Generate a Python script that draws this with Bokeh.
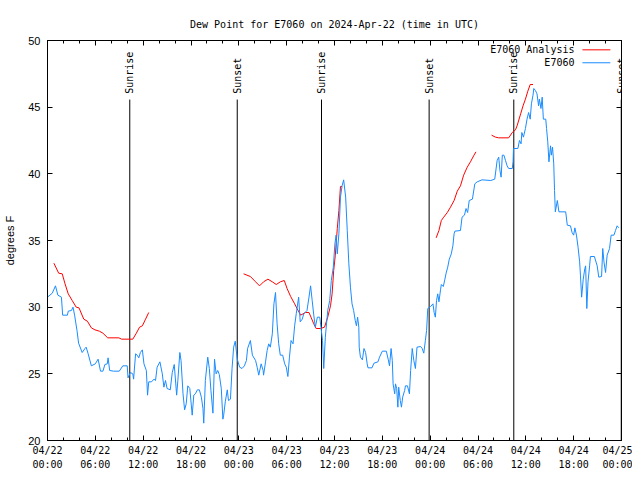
import math
from bokeh.plotting import figure
from bokeh.models import (Range1d, FixedTicker, LinearAxis, Label, LabelSet, Title,
                          ColumnDataSource, CustomJSTickFormatter)
from bokeh.core.properties import value
from bokeh.embed import file_html
from bokeh.resources import INLINE

# ---- data (hours since 2024-04-22 00:00 UTC, dew point in F) ----
obs_hours = [0.0, 0.6, 1.0, 1.3, 1.75, 1.9, 2.5, 2.6, 3.0, 3.2, 3.4, 3.7, 3.9, 4.35, 4.7, 4.85, 5.1, 5.5, 6.0, 6.35,
             6.65, 6.95, 7.2, 7.5, 7.6, 7.8, 8.3, 9.0, 9.45, 10.0, 10.1, 10.4, 10.7, 10.8, 11.05, 11.25, 11.45, 11.65,
             11.9, 12.1, 12.4, 12.55, 12.7, 13.05, 13.35, 13.55, 13.75, 14.1, 14.4, 14.6, 14.8, 15.0, 15.4, 15.65,
             15.9, 16.2, 16.35, 16.6, 16.75, 17.0, 17.2, 17.4, 17.6, 17.85, 18.15, 18.35, 18.55, 18.8, 19.05, 19.3,
             19.5, 19.6, 19.8, 20.1, 20.3, 20.5, 20.75, 20.95, 21.15, 21.35, 21.55, 21.8, 22.0, 22.1, 22.3, 22.55,
             22.7, 22.95, 23.15, 23.35, 23.55, 23.8, 24.1, 24.4, 24.7, 24.95, 25.1, 25.45, 25.7, 26.1, 26.3, 26.5,
             26.8, 27.05, 27.1, 27.35, 27.55, 27.75, 27.95, 28.2, 28.4, 28.6, 28.8, 29.0, 29.2, 29.5, 29.75, 29.95,
             30.15, 30.35, 30.55, 30.8, 31.0, 31.2, 31.5, 31.7, 31.95, 32.15, 32.55, 32.8, 33.0, 33.2, 33.4, 33.6,
             33.85, 34.15, 34.3, 34.5, 34.65, 34.85, 35.15, 35.4, 35.6, 35.85, 36.05, 36.2, 36.35, 36.55, 36.75,
             36.95, 37.15, 37.4, 37.6, 37.8, 38.0, 38.2, 38.4, 38.6, 38.75, 38.9, 39.05, 39.1, 39.25, 39.5, 39.7,
             39.9, 40.1, 40.2, 40.7, 40.95, 41.45, 41.65, 42.0, 42.5, 42.75, 42.9, 43.1, 43.25, 43.35, 43.55, 43.65,
             43.8, 43.95, 44.05, 44.25, 44.4, 44.55, 44.8, 44.9, 45.15, 45.4, 45.55, 45.75, 45.95, 46.15, 46.35,
             46.8, 47.0, 47.2, 47.4, 47.55, 47.7, 48.05, 48.35, 48.5, 48.65, 48.8, 48.95, 49.1, 49.3, 49.4, 49.65,
             49.85, 50.0, 50.2, 50.4, 50.65, 50.85, 51.0, 51.1, 51.8, 52.0, 52.3, 52.5, 52.7, 52.9, 53.3, 53.6,
             53.9, 54.5, 55.6, 56.1, 56.4, 56.6, 56.75, 56.9, 57.05, 57.25, 57.45, 57.65, 57.85, 58.3, 58.4, 58.45,
             59.0, 59.2, 59.4, 59.5, 59.7, 59.95, 60.15, 60.35, 60.55, 60.7, 60.9, 61.0, 61.2, 61.4, 61.6, 61.7,
             61.9, 62.05, 62.2, 62.5, 62.6, 62.75, 62.9, 63.1, 63.2, 63.35, 63.5, 63.6, 63.7, 63.95, 64.15, 65.0,
             65.2, 65.6, 65.8, 66.0, 66.15, 66.35, 66.55, 66.75, 66.85, 67.0, 67.2, 67.4, 67.5, 67.65, 67.8, 68.0,
             68.1, 68.6, 68.95, 69.15, 69.5, 69.65, 69.8, 70.0, 70.2, 70.5, 70.7, 71.05, 71.25, 71.45, 71.65]
obs_dewpt = [30.75, 31.05, 31.6, 30.9, 30.75, 29.4, 29.4, 29.7, 29.75, 30.0, 29.4, 28.25, 27.3, 26.6, 26.9, 27.0,
             26.5, 25.6, 25.75, 26.1, 25.2, 25.2, 25.7, 25.75, 26.2, 25.25, 25.2, 25.2, 25.6, 25.6, 24.7, 25.1, 25.0,
             24.6, 26.5, 26.4, 26.2, 26.6, 26.8, 25.75, 25.25, 23.4, 24.4, 24.4, 24.6, 24.5, 25.5, 25.9, 25.0, 24.0,
             24.5, 23.9, 23.8, 25.1, 25.7, 23.4, 24.5, 26.6, 26.0, 23.5, 22.3, 22.75, 24.1, 23.9, 21.9, 23.4, 23.5,
             23.8, 23.8, 23.25, 22.4, 21.3, 24.5, 26.25, 25.4, 23.75, 22.05, 26.1, 25.0, 25.25, 24.95, 23.9, 21.6,
             21.9, 22.9, 23.8, 23.0, 23.1, 25.4, 27.0, 27.45, 26.1, 25.5, 25.4, 25.6, 26.0, 26.9, 27.5, 26.4, 26.0,
             25.5, 24.9, 25.75, 25.25, 24.9, 25.9, 26.75, 27.25, 27.0, 28.0, 30.25, 31.1, 28.75, 27.25, 26.4, 26.4,
             25.75, 25.5, 24.8, 26.25, 27.5, 27.25, 28.6, 29.5, 30.75, 28.9, 29.1, 29.5, 29.75, 30.75, 31.6, 30.5,
             29.4, 28.5, 29.25, 29.25, 28.5, 27.5, 25.4, 27.75, 29.75, 30.5, 32.0, 33.0, 34.75, 35.4, 34.0, 35.5,
             38.25, 39.1, 39.55, 38.25, 35.75, 33.25, 31.5, 30.25, 29.75, 29.0, 28.6, 29.25, 28.5, 27.0, 26.25,
             26.05, 26.9, 26.6, 25.75, 25.45, 25.45, 25.8, 25.9, 26.25, 26.7, 26.7, 26.05, 25.6, 26.9, 26.0, 24.25,
             23.5, 24.25, 23.9, 22.5, 24.0, 23.0, 22.5, 23.25, 23.75, 24.1, 24.1, 23.5, 25.25, 26.9, 26.0, 25.4,
             27.0, 27.05, 26.9, 26.55, 27.5, 28.25, 29.9, 30.05, 30.25, 29.6, 29.25, 30.5, 31.0, 30.4, 31.3, 31.7,
             31.55, 32.1, 32.55, 33.0, 33.6, 34.0, 34.6, 35.5, 35.7, 35.75, 36.75, 36.9, 37.4, 37.1, 38.0, 38.1,
             39.25, 39.4, 39.55, 39.5, 39.6, 41.0, 41.25, 40.25, 39.75, 41.4, 41.4, 41.0, 40.6, 40.4, 40.4, 40.9,
             41.9, 41.9, 42.5, 42.25, 43.1, 42.75, 43.4, 44.1, 44.6, 44.1, 45.25, 45.9, 46.4, 46.25, 46.0, 45.1,
             45.6, 44.9, 45.75, 44.1, 44.1, 43.4, 42.4, 40.9, 42.1, 41.4, 42.0, 40.75, 38.75, 37.15, 38.0, 37.15,
             37.15, 36.15, 36.1, 35.6, 35.4, 35.95, 35.4, 34.5, 33.4, 32.4, 30.75, 32.1, 32.9, 33.1, 29.9, 31.9,
             33.1, 33.8, 33.8, 33.1, 32.25, 32.3, 34.4, 33.4, 32.6, 33.9, 34.4, 35.4, 35.4, 35.75, 36.1, 35.95]

NaN = float("nan")
ana_hours = [0.8, 1.4, 1.85, 2.2, 2.6, 3.1, 3.6, 3.95, 4.55, 5.0, 5.5, 5.95, 6.5, 6.95, 7.55, 8.95, 9.3, 10.7,
             11.1, 11.55, 11.9, 12.3, 12.7, NaN,
             24.6, 25.45, 26.1, 26.6, 27.1, 27.65, 28.2, 28.7, 29.2, 29.7, 30.05, 30.5, 31.0, 31.3, 31.75, 32.05,
             32.35, 32.8, 33.05, 33.4, 33.7, 34.25, 34.75, 35.15, 35.5, 35.7, 35.9, 36.1, 36.35, 36.55, 36.75, 36.95,
             NaN,
             48.75, 49.1, 49.4, 49.7, 50.15, 50.55, 51.0, 51.4, 51.8, 52.2, 52.65, 53.05, 53.5, 53.75, NaN,
             55.7, 56.2, 56.6, 57.85, 58.3, 58.7, 58.9, 59.35, 59.65, 59.95, 60.25, 60.55, 60.9]
ana_dewpt = [33.3, 32.55, 32.5, 31.75, 31.0, 30.5, 30.0, 29.95, 29.1, 28.95, 28.45, 28.3, 28.2, 28.05, 27.7, 27.7,
             27.6, 27.6, 28.0, 28.5, 28.6, 29.1, 29.6, NaN,
             32.5, 32.3, 31.9, 31.6, 31.9, 32.1, 31.9, 31.7, 31.9, 32.0, 31.4, 30.8, 30.25, 29.9, 29.4, 29.5, 29.6,
             29.6, 29.25, 28.75, 28.4, 28.4, 28.5, 29.25, 30.1, 31.0, 32.75, 33.9, 35.9, 37.25, 39.05, 39.05, NaN,
             35.2, 35.75, 36.5, 36.75, 37.1, 37.5, 38.0, 38.7, 39.1, 39.9, 40.5, 40.9, 41.4, 41.65, NaN,
             42.9, 42.75, 42.7, 42.7, 43.1, 43.3, 43.6, 44.5, 45.1, 45.6, 46.2, 46.7, 46.7]

event_hours = [10.32, 23.80, 34.37, 47.87, 58.49, 71.97]
event_names = ["Sunrise", "Sunset", "Sunrise", "Sunset", "Sunrise", "Sunset"]

xtick_hours = [0, 6, 12, 18, 24, 30, 36, 42, 48, 54, 60, 66, 72]
xtick_labels = ["04/22\n00:00", "04/22\n06:00", "04/22\n12:00", "04/22\n18:00",
                "04/23\n00:00", "04/23\n06:00", "04/23\n12:00", "04/23\n18:00",
                "04/24\n00:00", "04/24\n06:00", "04/24\n12:00", "04/24\n18:00",
                "04/25\n00:00"]
xminor_hours = list(range(0, 73, 2))
ytick_values = [20, 25, 30, 35, 40, 45, 50]

title_text = "Dew Point for E7060 on 2024-Apr-22 (time in UTC)"
series_names = ["E7060 Analysis", "E7060"]
series_colors = ["#ff0000", "#1a8cff"]

MONO = "DejaVu Sans Mono"
SANS = "Liberation Sans"

p = figure(width=632, height=472, output_backend="svg", toolbar_location=None,
           x_range=Range1d(0, 72), y_range=Range1d(20, 50), title=None,
           x_axis_location=None, y_axis_location=None,
           min_border_left=47, min_border_right=11, min_border_top=40, min_border_bottom=32)
p.grid.visible = False
p.outline_line_color = "black"
p.outline_line_width = 1
p.background_fill_color = "white"
p.border_fill_color = "white"

blank = CustomJSTickFormatter(code="return '';")

def style_x(ax, labels):
    ax.ticker = FixedTicker(ticks=xtick_hours, minor_ticks=xminor_hours)
    ax.major_tick_in = 5
    ax.major_tick_out = 0
    ax.minor_tick_in = 3
    ax.minor_tick_out = 0
    ax.axis_line_color = "black"
    ax.major_tick_line_color = "black"
    ax.minor_tick_line_color = "black"
    if labels:
        ax.major_label_overrides = {h: l for h, l in zip(xtick_hours, xtick_labels)}
        ax.major_label_text_font = MONO
        ax.major_label_text_font_size = "10px"
        ax.major_label_text_color = "black"
        ax.major_label_text_line_height = 1.3
        ax.major_label_standoff = 4
    else:
        ax.formatter = blank
        ax.major_label_standoff = 0

def style_y(ax, labels):
    ax.ticker = FixedTicker(ticks=ytick_values, minor_ticks=[])
    ax.major_tick_in = 5
    ax.major_tick_out = 0
    ax.minor_tick_in = 0
    ax.minor_tick_out = 0
    ax.axis_line_color = "black"
    ax.major_tick_line_color = "black"
    if labels:
        ax.major_label_text_font = SANS
        ax.major_label_text_font_size = "11px"
        ax.major_label_text_color = "black"
        ax.major_label_standoff = 7
        ax.axis_label = "degrees F"
        ax.axis_label_text_font = SANS
        ax.axis_label_text_font_size = "11px"
        ax.axis_label_text_font_style = "normal"
        ax.axis_label_text_color = "black"
        ax.axis_label_standoff = 9
    else:
        ax.formatter = blank
        ax.major_label_standoff = 0

xb = LinearAxis(); style_x(xb, True); p.add_layout(xb, "below")
xt = LinearAxis(); style_x(xt, False); p.add_layout(xt, "above")
yl = LinearAxis(); style_y(yl, True); p.add_layout(yl, "left")
yr = LinearAxis(); style_y(yr, False); p.add_layout(yr, "right")

p.add_layout(Title(text=title_text, align="center",
                   text_font=MONO, text_font_size="10px", text_font_style="normal",
                   text_color="black", standoff=22), "above")

# sunrise / sunset markers
line_top = 45.57
p.segment(x0=event_hours, y0=[p.y_range.start] * len(event_hours), x1=event_hours,
          y1=[line_top] * len(event_hours), line_color="black", line_width=1)
ev_src = ColumnDataSource(dict(x=event_hours, y=[46.0] * len(event_hours), t=event_names))
p.add_layout(LabelSet(x="x", y="y", text="t", source=ev_src, angle=math.pi / 2,
                      text_align="left", text_baseline="middle", text_font=value(MONO),
                      text_font_size=value("10px"), text_color="black"))

# data series
p.line(ana_hours, ana_dewpt, line_color=series_colors[0], line_width=1)
p.line(obs_hours, obs_dewpt, line_color=series_colors[1], line_width=1)

# gnuplot-style key (text then sample line)
key_text_x = 66.1
key_line_x0, key_line_x1 = 67.1, 70.6
key_y = [49.30, 48.33]
for name, col, ky in zip(series_names, series_colors, key_y):
    p.add_layout(Label(x=key_text_x, y=ky, text=name, text_align="right", text_baseline="middle",
                       text_font=MONO, text_font_size="10px", text_color="black"))
    p.segment(x0=[key_line_x0], y0=[ky], x1=[key_line_x1], y1=[ky], line_color=col, line_width=1)

open("out.html", "w").write(file_html(p, INLINE))
